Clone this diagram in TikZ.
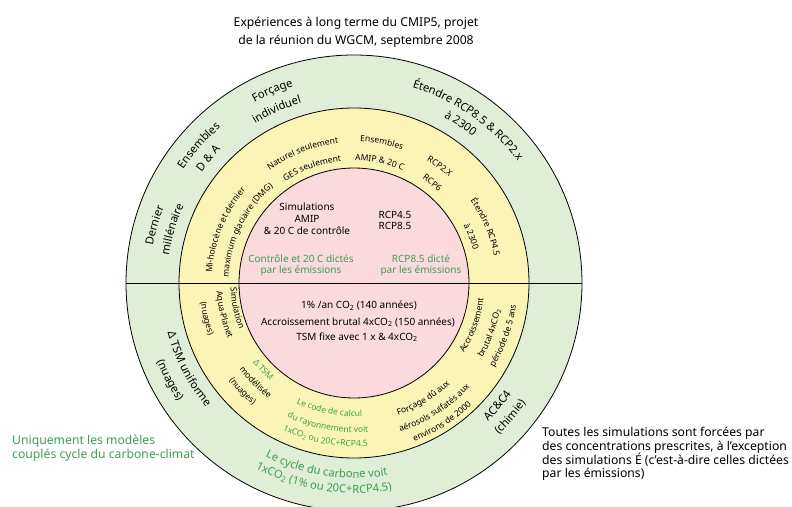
\documentclass[tikz,border=0pt]{standalone}
\usepackage{fontspec}
\setmainfont{Noto Sans}
\usetikzlibrary{decorations.text}
\definecolor{ringgreen}{RGB}{224,237,215}
\definecolor{ringyellow}{RGB}{250,245,183}
\definecolor{ringpink}{RGB}{250,218,221}
\definecolor{txtgreen}{RGB}{62,160,80}
\newcommand\ringtop[5][black]{%
  \path[decorate,decoration={text along path,text align=center,
    text={|\fontsize{#4}{#4}\selectfont\color{#1}|#5}}]
    ({#2+60}:#3pt) arc[start angle={#2+60}, end angle={#2-60}, radius=#3pt];}
\newcommand\ringbot[5][black]{%
  \path[decorate,decoration={text along path,text align=center,
    text={|\fontsize{#4}{#4}\selectfont\color{#1}|#5}}]
    ({#2-60}:#3pt) arc[start angle={#2-60}, end angle={#2+60}, radius=#3pt];}
\begin{document}
\begin{tikzpicture}[x=1pt,y=1pt,
  ringline/.style={draw=black,line width=0.8pt},
  ttl/.style={inner sep=0pt,anchor=base,font=\fontsize{12.2}{14}\selectfont},
  note/.style={inner sep=0pt,anchor=base west,font=\fontsize{12.2}{14}\selectfont},
  pk/.style={inner sep=0pt,anchor=base,font=\fontsize{10}{12}\selectfont},
  gr/.style={text=txtgreen}]
\useasboundingbox (-354,-223) rectangle (438,283);
% rings
\filldraw[ringline,fill=ringgreen] (0,0) circle[radius=228pt];
\filldraw[ringline,fill=ringyellow] (0,0) circle[radius=175pt];
\filldraw[ringline,fill=ringpink] (0,0) circle[radius=115pt];
\coordinate (hl) at (-228,0);
\coordinate (hr) at (228,0);
\draw[ringline] (hl) -- (hr);
% title
\node[ttl] (t1) at (2,256.1) {Expériences à long terme du CMIP5, projet};
\node[ttl] (t2) at (2,238.1) {de la réunion du WGCM, septembre 2008};
% notes
\node[note,gr] (n1) at (-342,-161.7) {Uniquement les modèles};
\node[note,gr] (n2) at (-342,-175.2) {couplés cycle du carbone-climat};
\node[note] (r1) at (188,-153.5) {Toutes les simulations sont forcées par};
\node[note] (r2) at (188,-167.2) {des concentrations prescrites, à l’exception};
\node[note] (r3) at (188,-181.2) {des simulations É (c’est-à-dire celles dictées};
\node[note] (r4) at (188,-194.5) {par les émissions)};
% pink centre
\node[pk] (p1) at (-47,72.8) {Simulations};
\node[pk] (p2) at (-47,60.2) {AMIP};
\node[pk] (p3) at (-47,48.5) {\& 20 C de contrôle};
\node[pk] (p4) at (41,64.5) {RCP4.5};
\node[pk] (p5) at (41,53.8) {RCP8.5};
\node[pk,gr] (p6) at (-53,20.2) {Contrôle et 20 C dictés};
\node[pk,gr] (p7) at (-53,9.5) {par les émissions};
\node[pk,gr] (p8) at (67,20.2) {RCP8.5 dicté};
\node[pk,gr] (p9) at (67,9.5) {par les émissions};
\node[pk] (p10) at (5,-25.5) {1\% /an CO\textsubscript{2} (140 années)};
\node[pk] (p11) at (4,-42.2) {Accroissement brutal 4xCO\textsubscript{2} (150 années)};
\node[pk] (p12) at (3,-57.2) {TSM fixe avec 1 x \& 4xCO\textsubscript{2}};
% yellow ring, top
\ringtop{111.6}{140.5}{8.5}{Naturel seulement}
\ringtop{110}{122.5}{8.5}{GES seulement}
\ringtop{78.8}{141.5}{8.5}{Ensembles}
\ringtop{78}{122.5}{8.5}{AMIP {\&} 20 C}
\ringtop{53.7}{142.5}{8.5}{RCP2.X}
\ringtop{52}{124.5}{8.5}{RCP6}
\ringtop{23}{142.5}{8.5}{Étendre RCP4.5}
\ringtop{21.5}{123.5}{8.5}{à 2300}
\ringtop{157.7}{142.5}{8.5}{Mi-holocène et dernier}
\ringtop{153.8}{125.5}{8.5}{maximum glaciaire (DMG)}
% yellow ring, bottom
\ringbot{192}{123.5}{8.5}{Simulation}
\ringbot{193.7}{137.5}{8.5}{Aqua-Planet}
\ringbot{193.6}{154.5}{8.5}{(nuages)}
\ringbot[txtgreen]{-136.3}{128.5}{8.5}{Δ TSM}
\ringbot{-134.7}{143.5}{8.5}{modélisée}
\ringbot{-135.8}{158.5}{8.5}{(nuages)}
\ringbot[txtgreen]{-101}{133.5}{8.5}{Le code de calcul}
\ringbot[txtgreen]{-100.5}{149.5}{8.5}{du rayonnement voit}
\ringbot[txtgreen]{-100.5}{163.5}{8.5}{1xCO{\textsubscript{2}} ou 20C+RCP4.5}
\ringbot{-59}{139.5}{8.5}{Forçage dû aux}
\ringbot{-57.3}{155.5}{8.5}{aérosols sulfatés aux}
\ringbot{-57.6}{169.5}{8.5}{environs de 2000}
\ringbot{-19.6}{130.5}{8.5}{Accroissement}
\ringbot{-20.3}{148.5}{8.5}{brutal 4xCO{\textsubscript{2}}}
\ringbot{-19.4}{163.5}{8.5}{période de 5 ans}
% outer ring, top
\ringtop{113}{206}{11.2}{Forçage}
\ringtop{114}{187.5}{11.2}{individuel}
\ringtop{138.5}{205}{11.2}{Ensembles}
\ringtop{139.5}{188.5}{11.2}{D {\&} A}
\ringtop{163.9}{204.5}{11.2}{Dernier}
\ringtop{163.5}{187}{11.2}{millénaire}
\ringtop{55}{204}{11.2}{Étendre RCP8.5 {\&} RCP2.x}
\ringtop{56.2}{188.5}{11.2}{à 2300}
% outer ring, bottom
\ringbot{-152.5}{193}{11.2}{Δ TSM uniforme}
\ringbot{-152.2}{212}{11.2}{(nuages)}
\ringbot[txtgreen]{-98.5}{195}{11.2}{Le cycle du carbone voit}
\ringbot[txtgreen]{-98.8}{210}{11.2}{1xCO{\textsubscript{2}} (1{\%} ou 20C+RCP4.5)}
\ringbot{-40.5}{192.5}{11.2}{AC{\&}C4}
\ringbot{-40.6}{209.5}{11.2}{(chimie)}
\end{tikzpicture}
\end{document}
